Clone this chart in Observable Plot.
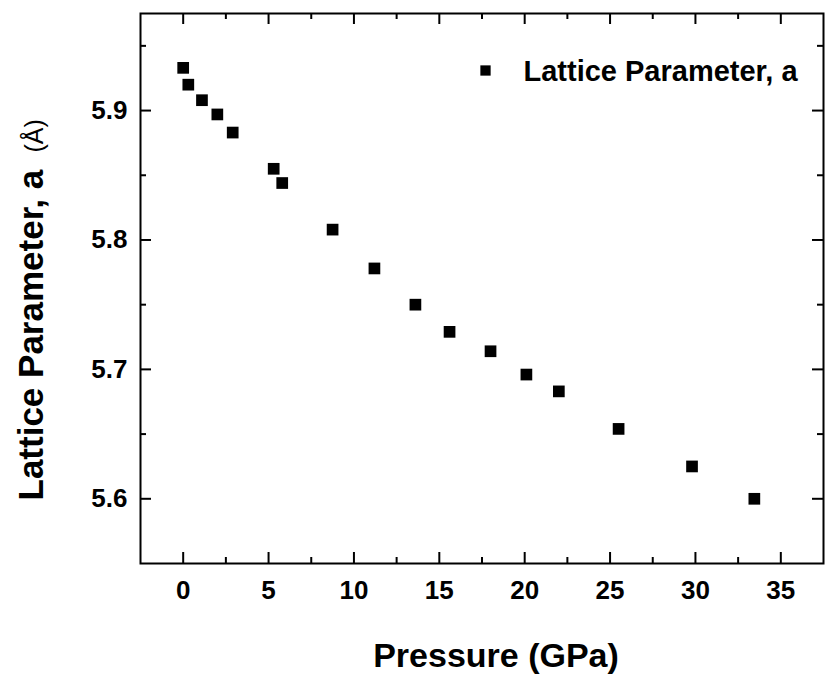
<!DOCTYPE html>
<html>
<head>
<meta charset="utf-8">
<script src="https://cdn.jsdelivr.net/npm/d3@7"></script>
<script src="https://cdn.jsdelivr.net/npm/@observablehq/plot@0.6"></script>
<style>
  html, body { margin: 0; padding: 0; background: #fff; }
  #wrap { position: relative; width: 828px; height: 677px; }
  #wrap svg { position: absolute; left: 0; top: 0; }
</style>
</head>
<body>
<div id="wrap"></div>
<script>
// Data
const pressure = [0, 0.3, 1.1, 2.0, 2.9, 5.3, 5.8, 8.75, 11.2, 13.6, 15.6, 18.0, 20.1, 22.0, 25.5, 29.8, 33.45];
const latticeA = [5.933, 5.920, 5.908, 5.897, 5.883, 5.855, 5.844, 5.808, 5.778, 5.750, 5.729, 5.714, 5.696, 5.683, 5.654, 5.625, 5.600];

const xMajorTicks = [0, 5, 10, 15, 20, 25, 30, 35];
const xMinorTicks = [2.5, 7.5, 12.5, 17.5, 22.5, 27.5, 32.5];
const yMajorTicks = [5.6, 5.7, 5.8, 5.9];
const yMinorTicks = [5.65, 5.75, 5.85, 5.95];

const xTitle = "Pressure (GPa)";
const yTitle = "Lattice Parameter, a";
const yUnit = "(Å)";
const legendLabels = ["Lattice Parameter, a"];

const data = pressure.map((p, i) => ({p, a: latticeA[i]}));

const W = 828, H = 677;
const mL = 140, mR = 5, mT = 13, mB = 114;
const innerW = W - mL - mR, innerH = H - mT - mB;
const major = 11, minor = 6;
const font = "Liberation Sans, Arial, sans-serif";
const tickStyle = {stroke: "black", strokeWidth: 2};

// Main chart: frame, ticks, tick labels, data
const chart = Plot.plot({
  width: W, height: H,
  marginLeft: mL, marginRight: mR, marginTop: mT, marginBottom: mB,
  style: {fontFamily: font, background: "white", color: "black"},
  x: {domain: [-2.5, 37.5], axis: null},
  y: {domain: [5.55, 5.975], axis: null},
  marks: [
    Plot.frame({stroke: "black", strokeWidth: 2}),
    Plot.tickX(xMajorTicks, {x: d => d, insetTop: innerH - major, ...tickStyle}),
    Plot.tickX(xMinorTicks, {x: d => d, insetTop: innerH - minor, ...tickStyle}),
    Plot.tickX(xMajorTicks, {x: d => d, insetBottom: innerH - major, ...tickStyle}),
    Plot.tickX(xMinorTicks, {x: d => d, insetBottom: innerH - minor, ...tickStyle}),
    Plot.tickY(yMajorTicks, {y: d => d, insetRight: innerW - major, ...tickStyle}),
    Plot.tickY(yMinorTicks, {y: d => d, insetRight: innerW - minor, ...tickStyle}),
    Plot.tickY(yMajorTicks, {y: d => d, insetLeft: innerW - major, ...tickStyle}),
    Plot.tickY(yMinorTicks, {y: d => d, insetLeft: innerW - minor, ...tickStyle}),
    Plot.text(xMajorTicks, {x: d => d, frameAnchor: "bottom", text: d => String(d), dy: 17, lineAnchor: "top", fontSize: 26, fontWeight: "bold", fill: "black"}),
    Plot.text(yMajorTicks, {y: d => d, frameAnchor: "left", text: d => d.toFixed(1), dx: -13, textAnchor: "end", lineAnchor: "middle", fontSize: 26, fontWeight: "bold", fill: "black"}),
    Plot.dot(data, {x: "p", y: "a", symbol: "square", r: 6.6, fill: "black", stroke: null})
  ]
});

// Overlay: legend and axis titles
const overlay = Plot.plot({
  width: W, height: H,
  marginLeft: mL, marginRight: mR, marginTop: mT, marginBottom: mB,
  style: {fontFamily: font, background: "transparent", color: "black"},
  marks: [
    Plot.dot(legendLabels, {frameAnchor: "top-left", dx: 345, dy: 57, symbol: "square", r: 5.8, fill: "black", stroke: null}),
    Plot.text(legendLabels, {frameAnchor: "top-left", text: d => d, dx: 383, dy: 67, textAnchor: "start", lineAnchor: "bottom", fontSize: 29, fontWeight: "bold", fill: "black"}),
    Plot.text([xTitle], {frameAnchor: "bottom", text: d => d, dx: 14, dy: 103, lineAnchor: "bottom", fontSize: 34, fontWeight: "bold", fill: "black"}),
    Plot.text([yTitle], {frameAnchor: "left", text: d => d, rotate: -90, dx: -98, dy: 212, textAnchor: "start", lineAnchor: "bottom", fontSize: 35, fontWeight: "bold", fill: "black"}),
    Plot.text([yUnit], {frameAnchor: "left", text: d => d, rotate: -90, dx: -98, dy: -136, textAnchor: "start", lineAnchor: "bottom", fontSize: 25, fontWeight: "normal", fill: "black"})
  ]
});

const wrap = document.getElementById("wrap");
wrap.appendChild(chart);
wrap.appendChild(overlay);
</script>
</body>
</html>
